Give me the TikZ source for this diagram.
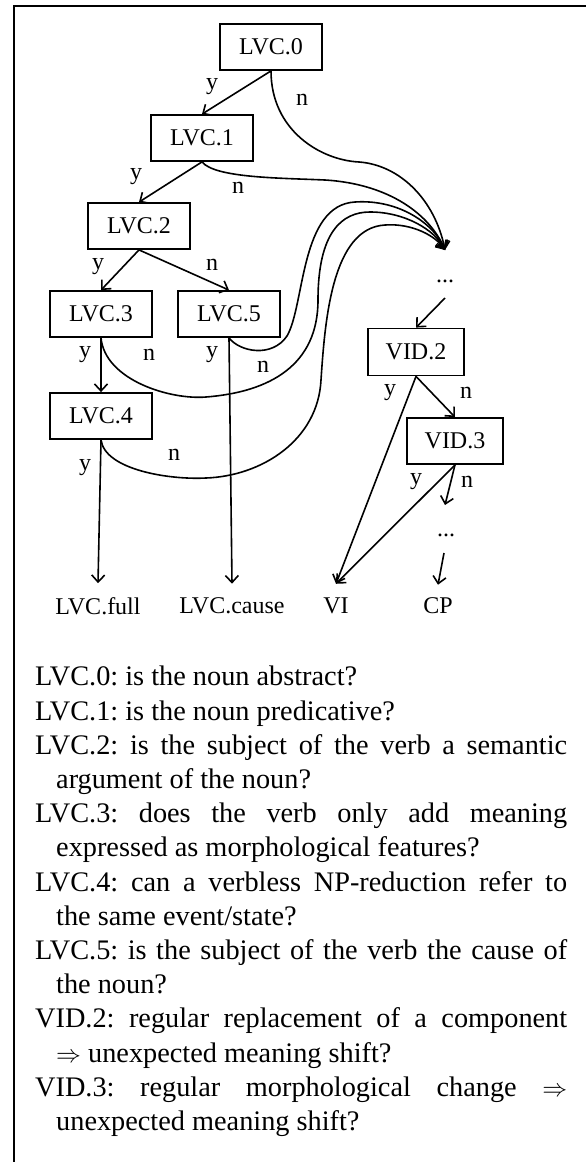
\documentclass[tikz,border=0pt]{standalone}
\usepackage{fontspec}
\setmainfont{Liberation Serif}
\usetikzlibrary{arrows.meta,calc}
\begin{document}
\begin{tikzpicture}[x=1pt,y=-1pt,
  box/.style={draw,line width=1.8pt,minimum width=102pt,minimum height=46pt,inner sep=0pt,font=\fontsize{24}{28}\selectfont},
  lbl/.style={inner sep=0pt,font=\fontsize{24}{28}\selectfont},
  leaf/.style={inner sep=0pt,font=\fontsize{24}{28}\selectfont},
  ln/.style={line width=1.5pt},
  arr/.style={line width=1.6pt,-{Straight Barb[length=7pt,width=13pt,line width=1.6pt]}}]
\useasboundingbox (0,0) rectangle (586,1162);
\draw[line width=1.8pt] (586,6) -- (14,6) -- (14,1162);
% boxes
\node[box] (l0) at (271,47) {LVC.0};
\node[box] (l1) at (202,138) {LVC.1};
\node[box] (l2) at (139,226) {LVC.2};
\node[box] (l3) at (101,314) {LVC.3};
\node[box] (l5) at (229,314) {LVC.5};
\node[box] (l4) at (101,416) {LVC.4};
\node[box,minimum width=96pt,minimum height=47pt] (v2) at (416,352) {VID.2};
\node[box,minimum width=96pt] (v3) at (455,441) {VID.3};
% dots and hub
\coordinate (hub) at (445,250);
\node[lbl] (d1) at (445,281) {...};
\node[lbl] (d2) at (446,535) {...};
% leaves
\node[leaf] (full) at (98,606) {LVC.full};
\node[leaf] (cause) at (232,606) {LVC.cause};
\node[leaf] (vi) at (336,606) {VI};
\node[leaf] (cp) at (438,606) {CP};
% y edges
\draw[arr] (l0.south) -- (l1.north);
\draw[arr] (l1.south) -- (l2.north);
\draw[arr] (l2.south) -- (l3.north);
\draw[arr] (l2.south) -- (l5.north);
\draw[arr] (l3.south) -- (l4.north);
\draw[arr] (l4.south) -- ($(full.north)+(0,-14)$);
\draw[arr] (l5.south) -- ($(cause.north)+(0,-14)$);
\draw[arr] (v2.south) -- ($(vi.north)+(0,-14)$);
\draw[arr] (v2.south) -- (v3.north);
\draw[arr] (v3.south) -- ($(vi.north)+(0,-14)$);
\draw[arr] (v3.south) -- ($(d2)+(-1,-30)$);
\draw[arr] ($(d1)+(0,17)$) -- (v2.north);
\draw[arr] ($(d2)+(-2,18)$) -- ($(cp.north)+(0,-13)$);
% n curves to hub
\draw[arr] (l0.south) .. controls (271,130) and (320,160) .. (359,162) .. controls (400,165) and (435,200) .. (hub);
\draw[arr] (l1.south) .. controls (215,178) and (280,178) .. (325,180) .. controls (390,184) and (430,215) .. (hub);
\draw[arr] (l5.south) .. controls (240,352) and (272,358) .. (287,336) .. controls (305,305) and (300,205) .. (355,202) .. controls (400,199) and (435,225) .. (hub);
\draw[arr] (l3.south) .. controls (105,380) and (170,400) .. (206,397) .. controls (270,392) and (318,365) .. (318,300) .. controls (318,232) and (342,212) .. (370,212) .. controls (405,212) and (435,230) .. (hub);
\draw[arr] (l4.south) .. controls (105,470) and (170,480) .. (206,478) .. controls (262,476) and (318,440) .. (321,380) .. controls (325,320) and (332,228) .. (385,225) .. controls (412,223) and (436,236) .. (hub);
% labels
\node[lbl] (y0) at (212,87) {y};
\node[lbl] (n0) at (302,100) {n};
\node[lbl] (y1) at (136,177) {y};
\node[lbl] (n1) at (238,188) {n};
\node[lbl] (y2) at (98,267) {y};
\node[lbl] (n2) at (212,265) {n};
\node[lbl] (y3) at (85,355) {y};
\node[lbl] (n3) at (149,355) {n};
\node[lbl] (y5) at (212,355) {y};
\node[lbl] (n5) at (263,367) {n};
\node[lbl] (yv2) at (390,393) {y};
\node[lbl] (nv2) at (466,393) {n};
\node[lbl] (y4) at (85,468) {y};
\node[lbl] (n4) at (174,455) {n};
\node[lbl] (yv3) at (416,482) {y};
\node[lbl] (nv3) at (467,482) {n};
% legend
\node[anchor=north west,text width=532pt,align=justify,inner sep=0pt,font=\fontsize{28.3}{34.2}\selectfont] (legend) at (35,666) {\frenchspacing%
\hangindent=21pt\hangafter=1 LVC.0: is the noun abstract?\par
\hangindent=21pt\hangafter=1 LVC.1: is the noun predicative?\par
\hangindent=21pt\hangafter=1 LVC.2: is the subject of the verb a semantic\linebreak argument of the noun?\par
\hangindent=21pt\hangafter=1 LVC.3: does the verb only add meaning\linebreak expressed as morphological features?\par
\hangindent=21pt\hangafter=1 LVC.4: can a verbless NP-reduction refer to\linebreak the same event/state?\par
\hangindent=21pt\hangafter=1 LVC.5: is the subject of the verb the cause of\linebreak the noun?\par
\hangindent=21pt\hangafter=1 VID.2: regular replacement of a component\linebreak $\Rightarrow$ unexpected meaning shift?\par
\hangindent=21pt\hangafter=1 VID.3: regular morphological change $\Rightarrow$\linebreak unexpected meaning shift?\par};
\end{tikzpicture}
\end{document}
